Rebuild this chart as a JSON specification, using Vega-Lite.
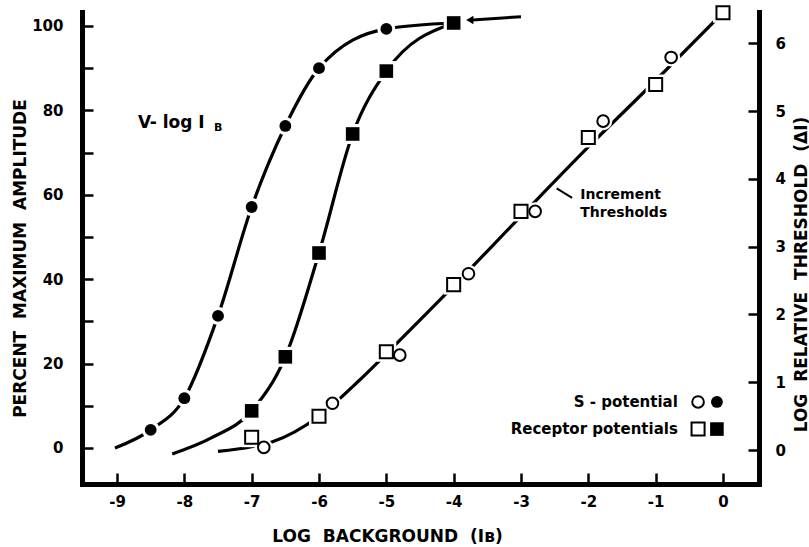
{
  "$schema": "https://vega.github.io/schema/vega-lite/v6.json",
  "width": 677,
  "height": 472,
  "autosize": {"type": "none"},
  "padding": {"left": 82, "top": 12, "right": 50, "bottom": 63},
  "background": "white",
  "config": {
    "view": {"stroke": null},
    "font": "DejaVu Sans",
    "axis": {
      "domainColor": "black", "domainWidth": 5, "domainCap": "square",
      "tickColor": "black", "tickWidth": 2.5, "tickSize": -11,
      "labelColor": "black", "labelFont": "DejaVu Sans", "labelFontSize": 15, "labelFontWeight": "bold",
      "titleFont": "DejaVu Sans", "titleFontSize": 17, "titleFontWeight": "bold", "titleColor": "black",
      "grid": false
    },
    "text": {"font": "DejaVu Sans", "color": "black", "fontWeight": "bold"}
  },
  "datasets": {
    "curves": [
      {"series": "S", "x": -9.03, "y": 0}, {"series": "S", "x": -8.5, "y": 4.3}, {"series": "S", "x": -8, "y": 11.8},
      {"series": "S", "x": -7.5, "y": 31.3}, {"series": "S", "x": -7, "y": 57.1}, {"series": "S", "x": -6.5, "y": 76.3},
      {"series": "S", "x": -6, "y": 90}, {"series": "S", "x": -5, "y": 99.3}, {"series": "S", "x": -4, "y": 100.7},
      {"series": "R", "x": -8.18, "y": -1.4}, {"series": "R", "x": -7.6, "y": 2.4}, {"series": "R", "x": -7, "y": 8.8},
      {"series": "R", "x": -6.5, "y": 21.6}, {"series": "R", "x": -6, "y": 46.2}, {"series": "R", "x": -5.5, "y": 74.4},
      {"series": "R", "x": -5, "y": 89.3}, {"series": "R", "x": -4, "y": 100.7}
    ],
    "sFilled": [
      {"x": -8.5, "y": 4.3}, {"x": -8, "y": 11.8}, {"x": -7.5, "y": 31.3}, {"x": -7, "y": 57.1},
      {"x": -6.5, "y": 76.3}, {"x": -6, "y": 90}, {"x": -5, "y": 99.3}
    ],
    "rFilled": [
      {"x": -7, "y": 8.8}, {"x": -6.5, "y": 21.6}, {"x": -6, "y": 46.2}, {"x": -5.5, "y": 74.4},
      {"x": -5, "y": 89.3}, {"x": -4, "y": 100.7}
    ],
    "arrow": [{"x": -3.0, "y": 102.2}, {"x": -3.72, "y": 101.4}],
    "arrowHead": [{"x": -3.76, "y": 101.4}],
    "leftText": [
      {"x": -8.69, "y": 77, "label": "V- log I"}
    ],
    "leftSub": [
      {"x": -7.56, "y": 75.9, "label": "B"}
    ],
    "thrLine": [
      {"x": -7.5, "y": -0.02}, {"x": -7.0, "y": 0.05}, {"x": -6.7, "y": 0.12}, {"x": -6.0, "y": 0.5},
      {"x": -5.4, "y": 1.03}, {"x": -5, "y": 1.42}, {"x": -4, "y": 2.42}, {"x": -3, "y": 3.45},
      {"x": -2, "y": 4.47}, {"x": -1, "y": 5.45}, {"x": 0, "y": 6.45}
    ],
    "rOpen": [
      {"x": -7, "y": 0.19}, {"x": -6, "y": 0.5}, {"x": -5, "y": 1.45}, {"x": -4, "y": 2.44},
      {"x": -3, "y": 3.52}, {"x": -2, "y": 4.61}, {"x": -1, "y": 5.39}, {"x": 0, "y": 6.45}
    ],
    "sOpen": [
      {"x": -6.82, "y": 0.04}, {"x": -5.8, "y": 0.69}, {"x": -4.8, "y": 1.4}, {"x": -3.78, "y": 2.6},
      {"x": -2.79, "y": 3.52}, {"x": -1.78, "y": 4.85}, {"x": -0.77, "y": 5.79}
    ],
    "leader": [{"x": -2.24, "y": 3.72}, {"x": -2.47, "y": 3.86}],
    "leftAlignText": [
      {"x": -2.12, "y": 3.76, "label": "Increment"},
      {"x": -2.12, "y": 3.5, "label": "Thresholds"}
    ],
    "legendText": [
      {"x": -0.67, "y": 0.71, "label": "S - potential"},
      {"x": -0.67, "y": 0.31, "label": "Receptor potentials"}
    ],
    "legendOpenCircle": [{"x": -0.37, "y": 0.71}],
    "legendFilledCircle": [{"x": -0.09, "y": 0.71}],
    "legendOpenSquare": [{"x": -0.37, "y": 0.31}],
    "legendFilledSquare": [{"x": -0.09, "y": 0.31}]
  },
  "encoding": {
    "x": {
      "field": "x", "type": "quantitative",
      "scale": {"domain": [-9.52, 0.535], "nice": false, "zero": false},
      "axis": {
        "values": [-9, -8, -7, -6, -5, -4, -3, -2, -1, 0],
        "labelExpr": "datum.value == 0 ? '0' : '-' + abs(datum.value)",
        "labelPadding": 21,
        "title": "LOG \u00a0BACKGROUND \u00a0(Iʙ)",
        "titleX": 305, "titleY": 52, "titleAlign": "center", "titleBaseline": "middle"
      }
    }
  },
  "layer": [
    {
      "encoding": {
        "y": {
          "field": "y", "type": "quantitative",
          "scale": {"domain": [-8.53, 103.3], "nice": false, "zero": false},
          "axis": {
            "orient": "left",
            "values": [0, 10, 20, 30, 40, 50, 60, 70, 80, 90, 100],
            "labelExpr": "datum.value % 20 == 0 ? datum.label : ''",
            "labelPadding": 30,
            "title": "PERCENT \u00a0MAXIMUM \u00a0AMPLITUDE",
            "titleX": -62, "titleY": 246, "titleAngle": 270, "titleAlign": "center", "titleBaseline": "middle"
          }
        }
      },
      "layer": [
        {"data": {"name": "curves"}, "mark": {"type": "line", "interpolate": "monotone", "color": "black", "strokeWidth": 3.2}, "encoding": {"detail": {"field": "series"}}},
        {"data": {"name": "sFilled"}, "mark": {"type": "point", "shape": "circle", "filled": true, "color": "white", "opacity": 1, "size": 330}},
        {"data": {"name": "rFilled"}, "mark": {"type": "point", "shape": "square", "filled": true, "color": "white", "opacity": 1, "size": 400}},
        {"data": {"name": "sFilled"}, "mark": {"type": "point", "shape": "circle", "filled": true, "color": "black", "opacity": 1, "size": 140}},
        {"data": {"name": "rFilled"}, "mark": {"type": "point", "shape": "square", "filled": true, "color": "black", "opacity": 1, "size": 185}},
        {"data": {"name": "arrow"}, "mark": {"type": "line", "color": "black", "strokeWidth": 3}, "encoding": {}},
        {"data": {"name": "arrowHead"}, "mark": {"type": "point", "shape": "triangle-left", "filled": true, "color": "black", "opacity": 1, "size": 70}},
        {"data": {"name": "leftText"}, "mark": {"type": "text", "align": "left", "baseline": "middle", "fontSize": 17}, "encoding": {"text": {"field": "label"}}},
        {"data": {"name": "leftSub"}, "mark": {"type": "text", "align": "left", "baseline": "middle", "fontSize": 11}, "encoding": {"text": {"field": "label"}}}
      ]
    },
    {
      "encoding": {
        "y": {
          "field": "y", "type": "quantitative",
          "scale": {"domain": [-0.5, 6.46], "nice": false, "zero": false},
          "axis": {
            "orient": "right",
            "values": [0, 1, 2, 3, 4, 5, 6],
            "labelPadding": 27,
            "title": "LOG \u00a0RELATIVE \u00a0THRESHOLD \u00a0(ΔI)",
            "titleX": 42, "titleY": 262, "titleAngle": 270, "titleAlign": "center", "titleBaseline": "middle"
          }
        }
      },
      "layer": [
        {"data": {"name": "thrLine"}, "mark": {"type": "line", "interpolate": "monotone", "color": "black", "strokeWidth": 3.2}, "encoding": {}},
        {"data": {"name": "rOpen"}, "mark": {"type": "point", "shape": "square", "filled": true, "color": "white", "opacity": 1, "size": 400}},
        {"data": {"name": "sOpen"}, "mark": {"type": "point", "shape": "circle", "filled": true, "color": "white", "opacity": 1, "size": 330}},
        {"data": {"name": "rOpen"}, "mark": {"type": "point", "shape": "square", "filled": true, "fill": "white", "stroke": "black", "strokeWidth": 2, "opacity": 1, "size": 170}},
        {"data": {"name": "sOpen"}, "mark": {"type": "point", "shape": "circle", "filled": true, "fill": "white", "stroke": "black", "strokeWidth": 2, "opacity": 1, "size": 135}},
        {"data": {"name": "leader"}, "mark": {"type": "line", "color": "black", "strokeWidth": 2}, "encoding": {}},
        {"data": {"name": "leftAlignText"}, "mark": {"type": "text", "align": "left", "baseline": "middle", "fontSize": 14}, "encoding": {"text": {"field": "label"}}},
        {"data": {"name": "legendText"}, "mark": {"type": "text", "align": "right", "baseline": "middle", "fontSize": 15}, "encoding": {"text": {"field": "label"}}},
        {"data": {"name": "legendOpenCircle"}, "mark": {"type": "point", "shape": "circle", "filled": true, "fill": "white", "stroke": "black", "strokeWidth": 2, "opacity": 1, "size": 135}},
        {"data": {"name": "legendFilledCircle"}, "mark": {"type": "point", "shape": "circle", "filled": true, "color": "black", "opacity": 1, "size": 140}},
        {"data": {"name": "legendOpenSquare"}, "mark": {"type": "point", "shape": "square", "filled": true, "fill": "white", "stroke": "black", "strokeWidth": 2, "opacity": 1, "size": 170}},
        {"data": {"name": "legendFilledSquare"}, "mark": {"type": "point", "shape": "square", "filled": true, "color": "black", "opacity": 1, "size": 185}}
      ]
    }
  ],
  "resolve": {"scale": {"y": "independent"}, "axis": {"y": "independent"}}
}
